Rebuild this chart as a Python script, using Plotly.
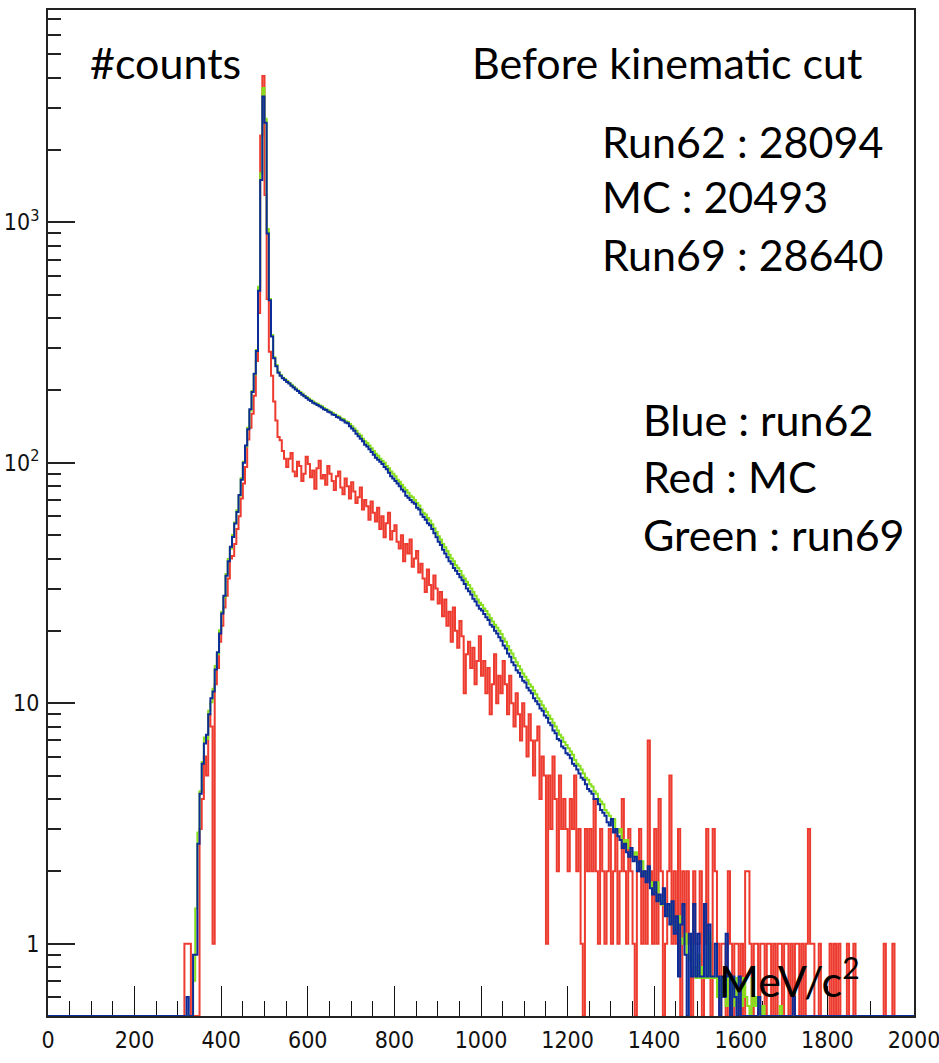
import numpy as np
import plotly.graph_objects as go

# ---------------- data (5 MeV bins) ----------------
BIN_WIDTH = 5
X_MIN, X_MAX = 0, 2000
DATA_START = 300  # bins below this edge are empty

run62 = [  # blue
    0, 0, 0, 0, 0.6, 0, 0, 0.9, 0.9, 2.6,
    4.2, 5.6, 6.8, 7.4, 9.0, 10.5, 11.2, 13.8, 16.3, 19.5,
    23.6, 28.0, 33.9, 39.0, 44.8, 49.2, 55.9, 62.4, 73.5, 85.0,
    100, 118, 138, 167, 197, 235, 292, 520, 1500, 3340,
    2600, 900, 475, 335, 272, 252, 237, 230, 225, 221,
    217, 214, 209, 206, 202, 199, 195, 192, 189, 186,
    183, 181, 178, 176, 174, 172, 170, 167, 166, 163,
    162, 159, 158, 155, 154, 151, 150, 147, 146, 142,
    139, 136, 132, 129, 126, 123, 119, 117, 114, 111,
    108, 105, 103, 101, 99, 96, 94, 91, 88, 86,
    84, 82, 80, 77.5, 76, 73, 71.5, 70, 68.5, 67.5,
    65, 64, 61, 59.5, 58, 56, 55, 53, 51, 49,
    47, 45.5, 43.5, 42, 40.5, 39, 38, 36.5, 35.6, 34.5,
    33.4, 32.5, 31.3, 30, 29.2, 28.3, 27.2, 26.5, 25.5, 24.7,
    24.3, 23.5, 22.8, 22.2, 21.2, 20.8, 20, 19.5, 18.8, 18.2,
    17.4, 16.9, 16.1, 15.6, 14.8, 14.4, 13.7, 13.4, 12.9, 12.4,
    12.2, 11.6, 11.3, 11.0, 10.5, 10.2, 9.9, 9.5, 9.3, 8.9,
    8.7, 8.3, 8.1, 7.7, 7.5, 7.1, 7.0, 6.6, 6.5, 6.2,
    6.1, 5.9, 5.6, 5.5, 5.3, 5.1, 4.9, 4.8, 4.6, 4.4,
    4.3, 4.2, 4.0, 4.0, 3.8, 3.6, 3.5, 3.4, 3.2, 3.1,
    3.3, 2.9, 3.0, 2.8, 2.7, 2.5, 2.6, 2.4, 2.3, 2.5,
    2.2, 2.3, 2.0, 2.2, 1.9, 2.0, 1.8, 2.1, 1.7, 1.6,
    1.8, 1.5, 1.6, 1.46, 1.7, 1.3, 1.46, 1.2, 1.5, 1.1,
    1.3, 0.73, 1.2, 1.46, 0.9, 0, 1.1, 0.73, 1.46, 0.73,
    1.1, 0.73, 0.73, 1.46, 0.73, 1.2, 0.73, 0.73, 1.0, 0.73,
    0, 0.73, 0.6, 1.1, 0.73, 0, 0.73, 0.6, 0, 0.73,
    0, 0, 0, 0, 0, 0, 0, 0, 0.6, 0,
    0, 0, 0, 0, 0, 0, 0, 0, 0, 0,
    0, 0, 0, 0, 0.6, 0, 0, 0, 0, 0,
    0, 0, 0, 0, 0, 0, 0, 0, 0, 0,
    0, 0, 0, 0, 0, 0, 0, 0, 0, 0,
    0, 0, 0, 0, 0, 0, 0, 0, 0, 0,
    0, 0, 0, 0, 0, 0, 0, 0, 0, 0,
    0, 0, 0, 0, 0, 0, 0, 0, 0, 0,
]

run69 = [  # green
    0, 0, 0, 0, 0, 0, 0, 0.7, 1.4, 2.9,
    4.3, 5.7, 7.2, 7.1, 9.3, 10.1, 11.5, 14.3, 16.0, 20.1,
    24.0, 27.6, 34.5, 39.8, 44.0, 50.1, 56.4, 63.5, 72.9, 86.3,
    101, 117, 140, 165, 199, 233, 295, 540, 1600, 3620,
    2700, 940, 480, 340, 275, 255, 239, 232, 226, 223,
    219, 215, 211, 207, 204, 200, 197, 194, 190, 188,
    185, 182, 180, 177, 176, 173, 172, 169, 167, 165,
    163, 161, 159, 157, 156, 153, 152, 149, 148, 145,
    142, 139, 136, 132, 130, 126, 123, 121, 118, 115,
    112, 109, 107, 104, 102, 100, 97, 95, 92, 90,
    88, 85, 83.5, 81, 79, 77, 75, 73, 72, 70,
    68, 66.5, 64, 62, 61, 59, 57.5, 55.5, 53.5, 51.5,
    49.5, 48, 46, 44.5, 43, 41.5, 40, 39, 37.5, 36.5,
    35.5, 34, 33, 32, 31, 30, 29, 28, 27, 26.2,
    25.6, 24.8, 24.2, 23.4, 22.6, 21.9, 21.2, 20.6, 20, 19.4,
    18.6, 18, 17.3, 16.6, 16.1, 15.4, 14.8, 14.3, 13.8, 13.3,
    12.9, 12.5, 12, 11.7, 11.3, 10.9, 10.5, 10.2, 9.8, 9.5,
    9.2, 8.9, 8.6, 8.3, 8.0, 7.7, 7.4, 7.2, 6.9, 6.7,
    6.5, 6.3, 6.1, 5.8, 5.6, 5.5, 5.3, 5.1, 4.9, 4.8,
    4.6, 4.5, 4.3, 4.2, 4.0, 3.9, 3.8, 3.6, 3.5, 3.4,
    3.2, 3.3, 3.0, 2.9, 3.0, 2.7, 2.6, 2.7, 2.5, 2.4,
    2.3, 2.4, 2.15, 2.1, 2.2, 1.95, 1.9, 2.0, 1.8, 1.7,
    1.65, 1.8, 1.5, 1.45, 1.55, 1.35, 1.3, 1.45, 1.2, 1.2,
    1.15, 1.3, 1.05, 1.0, 1.1, 0.9, 0.85, 1.0, 0.8, 0.72,
    0.9, 0.72, 0.8, 0.72, 0.72, 1.1, 0.72, 0.72, 0.72, 0.6,
    0.72, 0.6, 0.72, 0.55, 0.72, 0.6, 0.72, 0.55, 0.72, 0.6,
    0.55, 0.72, 0.6, 0.55, 0, 0.72, 0.55, 0.6, 0.55, 0,
    0.55, 0, 0, 0, 0, 0, 0, 0, 0.55, 0,
    0, 0, 0, 0, 0, 0, 0, 0, 0, 0,
    0, 0, 0, 0, 0, 0, 0, 0, 0, 0,
    0, 0, 0, 0, 0, 0, 0, 0, 0, 0,
    0, 0, 0, 0, 0, 0, 0, 0, 0, 0,
    0, 0, 0, 0, 0, 0, 0, 0, 0, 0,
    0, 0, 0, 0, 0, 0, 0, 0, 0, 0,
]

mc = [  # red
    0, 0, 0, 1, 1, 1, 0, 0, 0, 0,
    3, 4, 6, 5, 9, 8, 1, 12, 14, 18,
    21, 25, 28, 33, 40, 41, 46, 53, 60, 71,
    82, 96, 125, 140, 160, 190, 265, 420, 2300, 4070,
    1300, 480, 290, 230, 180, 150, 128, 124, 112, 104,
    96, 104, 110, 92, 88, 101, 97, 84, 90, 106,
    99, 87, 93, 78, 95, 102, 86, 89, 81, 97,
    90, 84, 77, 88, 92, 79, 74, 86, 80, 71,
    83, 76, 68, 72, 79, 64, 70, 66, 58, 69,
    62, 57, 65, 53, 60, 49, 56, 62, 48, 52,
    55, 47, 44, 50, 39, 46, 42, 48, 37, 40,
    43, 35, 38, 33, 29, 36, 31, 27, 34, 30,
    26, 29, 23, 27, 21, 24, 18, 25, 20, 17,
    22, 19, 11, 16, 18, 14, 17, 12, 15, 19,
    13, 15, 11, 14, 9, 12, 16, 10, 13, 11,
    15, 12, 9, 13, 10, 8, 11, 9, 7, 10,
    8, 6, 9, 7, 5, 7, 8, 4, 6, 5,
    1, 5, 3, 6, 4, 2, 5, 3, 4, 3,
    2, 4, 3, 5, 2, 3, 1, 0, 3, 2,
    3, 2, 4, 2, 1, 3, 2, 1, 2, 3,
    1, 2, 3, 1, 2, 4, 2, 1, 3, 2,
    1, 0, 2, 3, 1, 2, 1, 7, 2, 1,
    3, 1, 4, 2, 0, 1, 2, 5, 1, 2,
    1, 3, 0, 2, 1, 2, 1, 0, 2, 1,
    1, 2, 0, 1, 3, 1, 0, 3, 2, 1,
    0, 1, 1, 0, 2, 1, 0, 1, 1, 0,
    1, 0, 2, 2, 1, 0, 1, 1, 0, 1,
    1, 0, 1, 1, 0, 1, 0, 1, 1, 0,
    1, 1, 0, 1, 0, 1, 1, 0, 1, 0,
    1, 3, 1, 1, 0, 0, 1, 0, 0, 0,
    0, 1, 0, 1, 0, 1, 0, 0, 0, 1,
    0, 0, 1, 0, 0, 0, 0, 0, 0, 0,
    0, 0, 0, 0, 0, 0, 1, 0, 0, 0,
    1, 0, 0, 0, 0, 0, 0, 0, 0, 0,
]

y_tick_vals = [1, 10, 100, 1000]
y_tick_text = ["1", "10", "10<sup>2</sup>", "10<sup>3</sup>"]
x_tick_vals = list(range(0, 2001, 200))

Y_MIN, Y_MAX = 0.5, 7650.0

# ---------------- build histogram step lines ----------------
edges = np.arange(X_MIN, X_MAX + BIN_WIDTH, BIN_WIDTH)
n_bins = len(edges) - 1
n_lead = (DATA_START - X_MIN) // BIN_WIDTH


def full(series):
    arr = np.zeros(n_bins)
    arr[n_lead:n_lead + len(series)] = series
    # ROOT draws empty / below-range bins on the bottom of the frame
    arr = np.where(arr < Y_MIN, Y_MIN, arr)
    return np.append(arr, arr[-1])


fig = go.Figure()
for name, vals, color in [("MC", mc, "#ee3b2f"),
                          ("run69", run69, "#86e01c"),
                          ("run62", run62, "#0c2c98")]:
    fig.add_trace(go.Scatter(x=edges, y=full(vals), mode="lines",
                             line=dict(color=color, width=2, shape="hv"),
                             name=name, showlegend=False, hoverinfo="skip"))

tick_font = dict(family="Liberation Sans Narrow, DejaVu Sans Condensed, Arial Narrow, sans-serif",
                 size=23, color="#111111")

minor_y = []
for dec in [0.1, 1, 10, 100, 1000]:
    for k in range(2, 10):
        v = k * dec
        if Y_MIN < v < Y_MAX:
            minor_y.append(v)

fig.update_xaxes(range=[X_MIN, X_MAX], tickvals=x_tick_vals,
                 ticks="inside", ticklen=30, tickwidth=1.3, tickcolor="#111",
                 minor=dict(dtick=50, tick0=0, ticks="inside", ticklen=15,
                            tickwidth=1.3, tickcolor="#111"),
                 showline=True, linecolor="#222", linewidth=2, mirror=True,
                 showgrid=False, zeroline=False, tickfont=tick_font,
                 layer="below traces", ticklabelstandoff=2,
                 ticklabeloverflow="allow")
fig.update_yaxes(type="log", range=[np.log10(Y_MIN), np.log10(Y_MAX)],
                 tickvals=y_tick_vals, ticktext=y_tick_text,
                 ticks="inside", ticklen=27, tickwidth=2, tickcolor="#222",
                 minor=dict(tickvals=minor_y, ticks="inside", ticklen=13,
                            tickwidth=2, tickcolor="#222"),
                 showline=True, linecolor="#222", linewidth=2, mirror=True,
                 showgrid=False, zeroline=False, tickfont=tick_font,
                 layer="below traces", ticklabelstandoff=2,
                 ticklabeloverflow="allow")

# ---------------- text ----------------
W, H = 939, 1063
L, R, T, B = 48, 25, 10, 47
PW, PH = W - L - R, H - T - B
TXT = dict(family="Lato, Noto Sans, sans-serif", size=43, color="black")


def ann(text, px, baseline):
    fig.add_annotation(text=text, xref="paper", yref="paper",
                       x=(px - L) / PW, y=(H - B - (baseline - 16)) / PH,
                       xanchor="left", yanchor="middle", showarrow=False,
                       font=TXT)


ann("#counts", 88, 79)
ann("Before kinematic cut", 470, 79)
ann("Run62 : 28094", 600, 157)
ann("MC : 20493", 600, 212)
ann("Run69 : 28640", 600, 270)
ann("Blue : run62", 641, 435)
ann("Red : MC", 641, 492)
ann("Green : run69", 641, 550)
ann("MeV/c<sup>2</sup>", 717, 993)

fig.update_layout(width=W, height=H, margin=dict(l=L, r=R, t=T, b=B, autoexpand=False),
                  paper_bgcolor="white", plot_bgcolor="white", showlegend=False)

fig.write_html("out.html", config={"displayModeBar": False},
               post_script="document.body.style.margin='0px';document.body.style.padding='0px';")
